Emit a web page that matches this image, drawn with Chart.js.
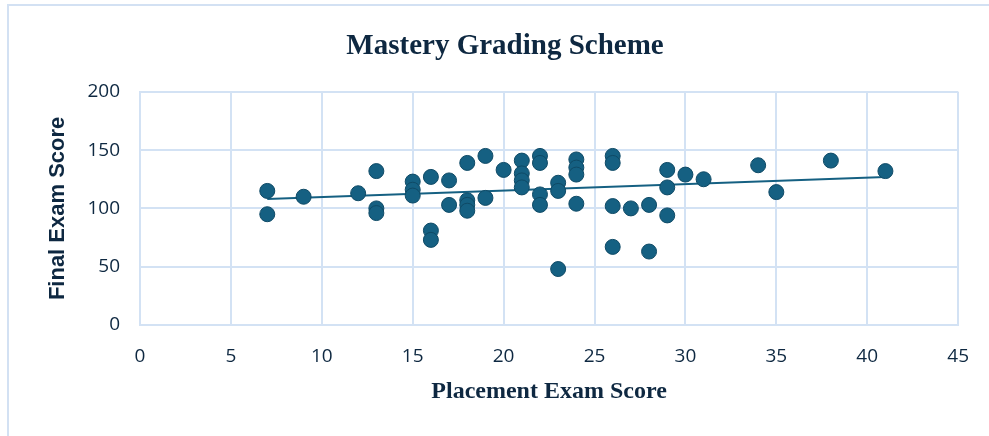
<!DOCTYPE html>
<html>
<head>
<meta charset="utf-8">
<script src="https://cdn.jsdelivr.net/npm/chart.js@4"></script>
<style>
  html, body { margin: 0; padding: 0; background: #fff; overflow: hidden; }
  #frame { position: absolute; left: 7px; top: 4px; width: 1100px; height: 600px;
           border: 2px solid #d3e1f3; box-sizing: border-box; }
  #wrap { position: absolute; left: 0; top: 0; width: 989px; height: 436px; }
</style>
</head>
<body>
<div id="frame"></div>
<div id="wrap"><canvas id="chart" width="989" height="436"></canvas></div>
<script>
// Placement exam score (x) vs final exam score (y)
const placement = [
  7, 7, 9, 12, 13, 13, 13, 15, 15, 15, 16, 16, 16, 17, 17,
  18, 18, 18, 18, 19, 19, 20, 21, 21, 21, 21, 22, 22, 22, 22,
  23, 23, 23, 24, 24, 24, 24, 26, 26, 26, 26, 27, 28, 28,
  29, 29, 29, 30, 31, 34, 35, 38, 41,
];
const finalExam = [
  115, 95, 110, 113, 132, 100, 96, 123, 116, 111, 127, 81, 73, 124, 103,
  139, 107, 103, 98, 145, 109, 133, 141, 130, 124, 118, 145, 139, 112, 103,
  122, 115, 48, 142, 135, 129, 104, 145, 139, 102, 67, 100, 103, 63,
  133, 118, 94, 129, 125, 137, 114, 141, 132,
];

// linear trendline ends
const trendX = [7, 41];
const trendY = [108, 127];

const xTicks = [0, 5, 10, 15, 20, 25, 30, 35, 40, 45];
const yTicks = [0, 50, 100, 150, 200];

const BLUE = '#156082';
const GRID = '#d3e2f4';
const TEXT = '#0e2841';

const points = placement.map((x, i) => ({ x, y: finalExam[i] }));
const trend = trendX.map((x, i) => ({ x, y: trendY[i] }));

new Chart(document.getElementById('chart'), {
  type: 'scatter',
  data: {
    datasets: [
      {
        label: 'Scores',
        data: points,
        backgroundColor: BLUE,
        borderColor: '#0f4a66',
        borderWidth: 1,
        pointRadius: 7.5,
        order: 1,
      },
      {
        label: 'Trend',
        type: 'line',
        data: trend,
        borderColor: BLUE,
        borderWidth: 2,
        pointRadius: 0,
        fill: false,
        order: 2,
      },
    ],
  },
  options: {
    responsive: false,
    animation: false,
    layout: { padding: { left: 40, right: 19, top: 0, bottom: 0 } },
    plugins: {
      legend: { display: false },
      tooltip: { enabled: false },
      title: {
        display: true,
        text: 'Mastery Grading Scheme',
        color: TEXT,
        font: { family: '"Liberation Serif", "Times New Roman", serif', size: 29, weight: 'bold', lineHeight: 1.2 },
        padding: { top: 29, bottom: 28 },
      },
    },
    scales: {
      x: {
        type: 'linear',
        min: 0,
        max: 45,
        afterBuildTicks: (axis) => { axis.ticks = xTicks.map(v => ({ value: v })); },
        afterFit: (axis) => { axis.height = 111; },
        grid: { color: GRID, lineWidth: 2, drawTicks: false },
        border: { color: GRID, width: 2 },
        ticks: {
          color: TEXT,
          padding: 20,
          font: { family: '"Open Sans", "Liberation Sans", sans-serif', size: 19 },
        },
        title: {
          display: true,
          text: 'Placement Exam Score',
          color: TEXT,
          font: { family: '"Liberation Serif", "Times New Roman", serif', size: 24, weight: 'bold', lineHeight: 1.2 },
          padding: { top: 0, bottom: 30 },
        },
      },
      y: {
        type: 'linear',
        min: 0,
        max: 200,
        afterBuildTicks: (axis) => { axis.ticks = yTicks.map(v => ({ value: v })); },
        afterFit: (axis) => { axis.width = 100; },
        grid: { color: GRID, lineWidth: 2, drawTicks: false },
        border: { color: GRID, width: 2 },
        ticks: {
          color: TEXT,
          padding: 20,
          font: { family: '"Open Sans", "Liberation Sans", sans-serif', size: 19 },
        },
        title: {
          display: true,
          text: 'Final Exam Score',
          color: TEXT,
          font: { family: '"Liberation Sans", Arial, sans-serif', size: 22, weight: 'bold', lineHeight: 1.2 },
          padding: { top: 5, bottom: 0 },
        },
      },
    },
  },
});
</script>
</body>
</html>
